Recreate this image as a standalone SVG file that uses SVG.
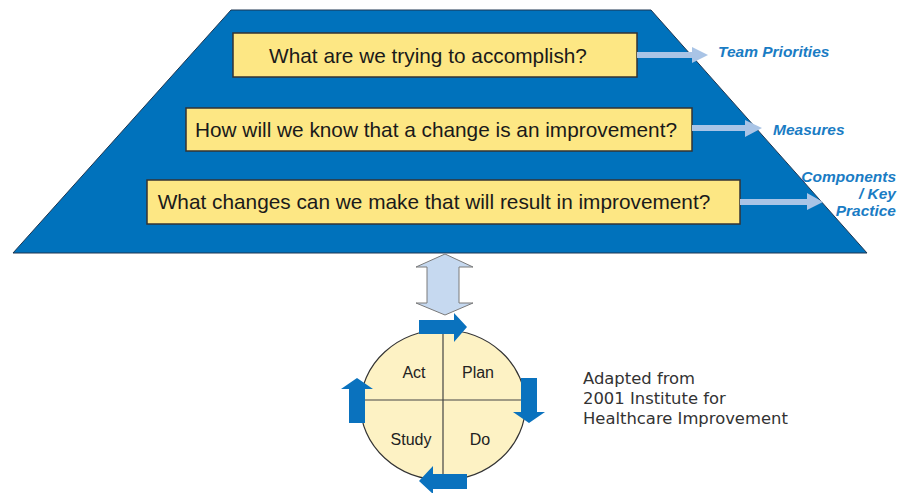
<svg xmlns="http://www.w3.org/2000/svg" width="904" height="493" viewBox="0 0 904 493">
<style>
.q{fill:#fde784;stroke:#333;stroke-width:1.5}
.qt{font-family:"Liberation Sans",Arial,sans-serif;font-size:20.8px;fill:#1a1a1a}
.lb{font-family:"Liberation Sans",Arial,sans-serif;font-size:15.5px;font-weight:bold;font-style:italic;fill:#1a7cc4}
.la{fill:#a9c4e6}
.ba{fill:#0a72be}
.pd{font-family:"Liberation Sans",Arial,sans-serif;font-size:16px;fill:#222}
.cap{font-family:"DejaVu Sans",Verdana,sans-serif;font-size:16.4px;fill:#333}
</style>
<g id="pyramid">
<polygon points="231,10 651,10 867,253 13,253" fill="#0072bc" stroke="#1d3550" stroke-width="1"/>
</g>
<g id="q1">
<rect class="q" x="233" y="33" width="404" height="44"/>
<text class="qt" x="428" y="63" text-anchor="middle">What are we trying to accomplish?</text>
</g>
<g id="q2">
<rect class="q" x="186" y="108" width="506" height="43"/>
<text class="qt" x="436" y="137" text-anchor="middle">How will we know that a change is an improvement?</text>
</g>
<g id="q3">
<rect class="q" x="147" y="180" width="593" height="44"/>
<text class="qt" x="434" y="209" text-anchor="middle">What changes can we make that will result in improvement?</text>
</g>
<g id="lbl-team"><text class="lb" x="718" y="57">Team Priorities</text></g>
<g id="lbl-measures"><text class="lb" x="773" y="135">Measures</text></g>
<g id="lbl-components">
<text class="lb" x="896" y="182" text-anchor="end">Components</text>
<text class="lb" x="896" y="199" text-anchor="end">/ Key</text>
<text class="lb" x="896" y="216" text-anchor="end">Practice</text>
</g>
<g id="pdsa">
<ellipse cx="443" cy="405" rx="82.5" ry="75" fill="#fdf2c4" stroke="#333" stroke-width="1.2"/>
<line x1="443" y1="330" x2="443" y2="480" stroke="#444" stroke-width="1.2"/>
<line x1="360.5" y1="400" x2="525.5" y2="400" stroke="#444" stroke-width="1.2"/>
<text class="pd" x="414" y="378" text-anchor="middle">Act</text>
<text class="pd" x="478" y="378" text-anchor="middle">Plan</text>
<text class="pd" x="411" y="445" text-anchor="middle">Study</text>
<text class="pd" x="480" y="445" text-anchor="middle">Do</text>
</g>
<g id="caption">
<text class="cap" x="583" y="384">Adapted from</text>
<text class="cap" x="583" y="404">2001 Institute for</text>
<text class="cap" x="583" y="424">Healthcare Improvement</text>
</g>
<g id="connectors">
<polygon class="la" points="637,52 692,52 692,47 708,55 692,63 692,58 637,58"/>
<polygon class="la" points="692,125 745,125 745,120 762,128 745,137 745,131 692,131"/>
<polygon class="la" points="740,199 807,199 807,193 823,202 807,210 807,205 740,205"/>
<polygon points="445,254 473,267 459,267 459,303 473,303 445,315 416,303 427,303 427,267 416,267" fill="#c6d9f0" stroke="#7a7a7a" stroke-width="1"/>
<polygon class="ba" points="419,320 454,320 454,313 467,327 454,342 454,334 419,334"/>
<polygon class="ba" points="521,378 537,378 537,412 545,412 529,423 513,412 521,412"/>
<polygon class="ba" points="467,474 433,474 433,466 419,481 433,494 433,489 467,489"/>
<polygon class="ba" points="349,423 349,389 341,389 357,378 373,389 365,389 365,423"/>
</g>
</svg>
